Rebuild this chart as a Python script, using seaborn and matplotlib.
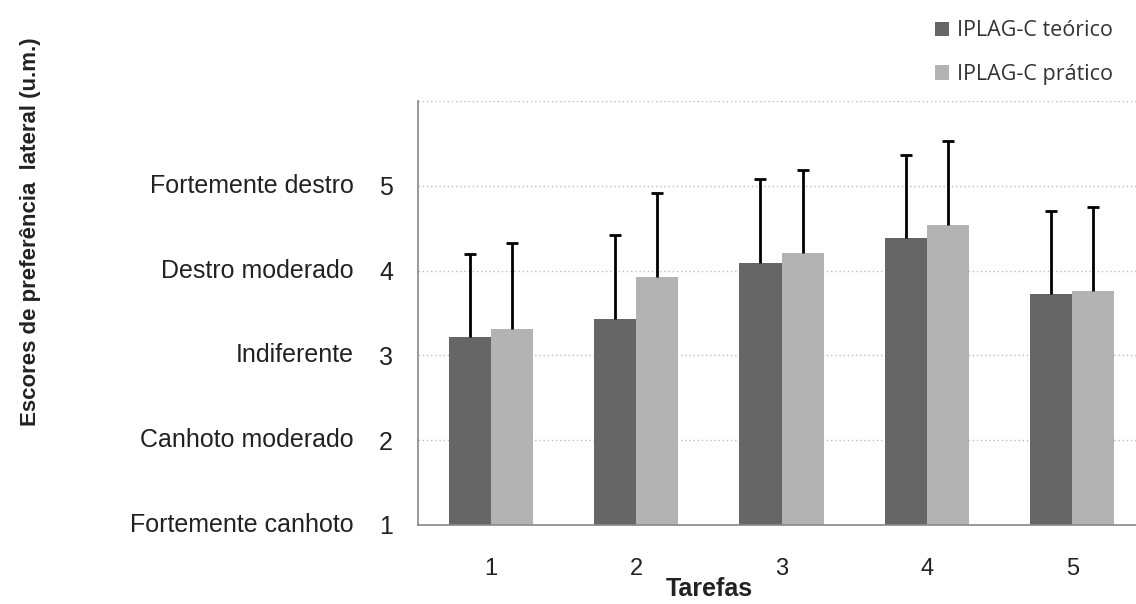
import numpy as np
import pandas as pd
import seaborn as sns
import matplotlib.pyplot as plt
from matplotlib import font_manager
from matplotlib.patches import Patch


# ---------------------------
# Data
# ---------------------------

tarefas = ["1", "2", "3", "4", "5"]
grupos = ["IPLAG-C teórico", "IPLAG-C prático"]

media_teorico = [3.22, 3.43, 4.09, 4.38, 3.72]
media_pratico = [3.31, 3.93, 4.21, 4.54, 3.76]

dp_teorico = [0.98, 0.99, 0.99, 0.98, 0.98]
dp_pratico = [1.01, 0.98, 0.98, 0.99, 0.99]

y_ticks = [1, 2, 3, 4, 5, 6]
y_descricoes = ["Fortemente canhoto", "Canhoto moderado", "Indiferente",
                "Destro moderado", "Fortemente destro"]

colors = {"IPLAG-C teórico": "#666666", "IPLAG-C prático": "#b3b3b3"}


# ---------------------------
# Plot style
# ---------------------------

sns.set_theme(style="white")
plt.rcParams['font.family'] = ['Liberation Sans', 'DejaVu Sans']

try:
    font_manager.findfont("Liberation Sans Narrow", fallback_to_default=False)
    bold_family = ["Liberation Sans Narrow", "Liberation Sans"]
    ylabel_size, xlabel_size = 20, 21
except ValueError:
    bold_family = ["Liberation Sans"]
    ylabel_size, xlabel_size = 16, 18


# ---------------------------
# Long-form table
# ---------------------------

data = pd.DataFrame({
    "Tarefa": tarefas * 2,
    "Grupo": [grupos[0]] * 5 + [grupos[1]] * 5,
    "Media": media_teorico + media_pratico,
    "DP": dp_teorico + dp_pratico,
})


# ---------------------------
# Create figure
# ---------------------------

fig = plt.figure(figsize=(11.36, 6.04), dpi=100)
ax = fig.add_axes([418 / 1136, 79 / 604, 727 / 1136, 424 / 604])

sns.barplot(
    data=data, x="Tarefa", y="Media", hue="Grupo",
    order=tarefas, hue_order=grupos, palette=colors,
    width=0.58, errorbar=None, saturation=1, linewidth=0,
    legend=False, ax=ax, zorder=2
)

# one-sided (upper) error bars at the bar centres
for patch_group, grupo in zip(ax.containers, grupos):
    sub = data[data["Grupo"] == grupo]
    xs = [p.get_x() + p.get_width() / 2 for p in patch_group]
    eb = ax.errorbar(
        xs, sub["Media"], yerr=[np.zeros(len(sub)), sub["DP"]],
        fmt="none", ecolor="black", elinewidth=2, capsize=4.5,
        capthick=2, zorder=3
    )
    # hide the lower caps (they would sit on the bar tops)
    eb[1][0].set_visible(False)


# ---------------------------
# Axis configuration
# ---------------------------

ax.set_ylim(1, 6)
ax.set_xlim(-0.5, 4.5)

ax.set_yticks(y_ticks)
ax.set_yticklabels(["1", "2", "3", "4", "5", ""], fontsize=18, color="#222222")
for val, desc in zip(y_ticks[:-1], y_descricoes):
    ax.text(-0.088, val, desc, transform=ax.get_yaxis_transform(),
            ha="right", va="center", fontsize=18, color="#222222")

ax.set_xticks(range(len(tarefas)))
ax.set_xticklabels(tarefas, fontsize=17, color="#222222")
ax.set_xticks(np.arange(-0.5, 4.6, 1), minor=True)

ax.tick_params(axis="x", which="major", length=0, pad=24)
ax.tick_params(axis="x", which="minor", direction="out", length=6,
               width=1, color="#888888")
ax.tick_params(axis="y", direction="out", length=6, width=1,
               color="#888888", pad=12)

ax.set_xlabel("Tarefas", fontsize=xlabel_size, fontweight="bold",
              family=bold_family, color="#222222")
ax.xaxis.set_label_coords(0.401, -0.122)
ax.set_ylabel("Escores de preferência  lateral (u.m.)", fontsize=ylabel_size,
              fontweight="bold", family=bold_family, color="#222222")
ax.yaxis.set_label_coords((41 - 418) / 727, (604 - 232 - 79) / 424)

ax.grid(axis="y", linestyle=(0, (1, 2)), color="#bbbbbb", linewidth=1,
        zorder=0)
ax.set_axisbelow(True)


# ---------------------------
# Spine styling
# ---------------------------

for loc, spine in ax.spines.items():
    if loc in ["left", "bottom"]:
        spine.set_visible(True)
        spine.set_color("#888888")
        spine.set_linewidth(1.2)
    else:
        spine.set_visible(False)


# ---------------------------
# Legend
# ---------------------------

handles = [Patch(facecolor=colors[g], edgecolor="none") for g in grupos]
fig.legend(
    handles, grupos, loc="upper left", bbox_to_anchor=(916 / 1136, 1 - 1 / 604),
    frameon=False, handlelength=0.65, handleheight=0.65, handletextpad=0.35,
    labelspacing=1.05, prop={"family": "Open Sans", "size": 15.5},
    labelcolor="#333333"
)


# ---------------------------
# Save figure
# ---------------------------

fig.savefig("out.png", dpi=100)
